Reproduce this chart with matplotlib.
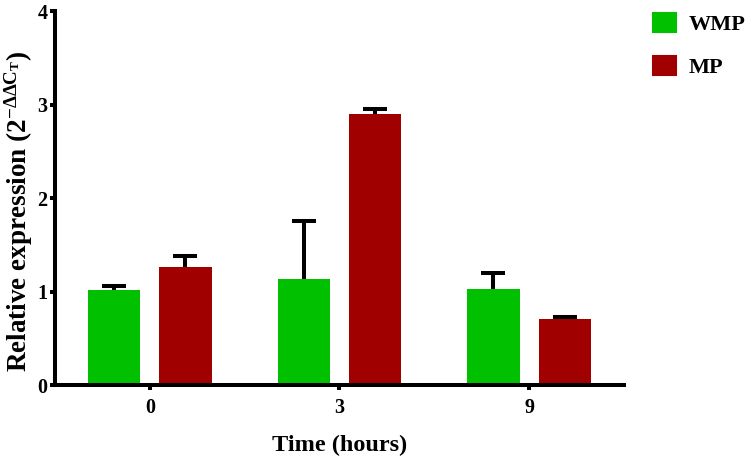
import numpy as np
import matplotlib.pyplot as plt
from matplotlib.patches import Patch

plt.rcParams['font.family'] = ['Liberation Serif', 'DejaVu Serif']
plt.rcParams['font.weight'] = 'bold'
plt.rcParams['mathtext.fontset'] = 'custom'
plt.rcParams['mathtext.rm'] = 'Liberation Serif:bold'
plt.rcParams['mathtext.it'] = 'Liberation Serif:bold'
plt.rcParams['mathtext.bf'] = 'Liberation Serif:bold'

# data
times = ['0', '3', '9']
wmp = [1.02, 1.13, 1.03]
wmp_err = [0.04, 0.63, 0.17]
mp = [1.26, 2.90, 0.71]
mp_err = [0.12, 0.05, 0.02]

green = '#00C000'
red = '#A00000'

fig = plt.figure(figsize=(7.47, 4.59), dpi=100)
ax = fig.add_axes([0.0736, 0.161, 0.7617, 0.8148])

x = np.arange(len(times))
w = 0.275
off = 0.188
# error bars sit behind the bars so only the upper half shows
ekw = dict(fmt='none', elinewidth=2.9, capthick=2.9, capsize=8.3, ecolor='black', zorder=1)
ax.errorbar(x - off, wmp, yerr=wmp_err, **ekw)
ax.errorbar(x + off, mp, yerr=mp_err, **ekw)
ax.bar(x - off, wmp, w, color=green, zorder=2)
ax.bar(x + off, mp, w, color=red, zorder=2)

ax.set_xlim(-0.5, 2.5)
ax.set_ylim(0, 4)
ax.set_xticks(x)
ax.set_xticklabels(times)
ax.set_yticks([0, 1, 2, 3, 4])
for s in ['top', 'right']:
    ax.spines[s].set_visible(False)
for s in ['left', 'bottom']:
    ax.spines[s].set_linewidth(2.9)
ax.tick_params(width=2.9, length=3.5, labelsize=14.5)
ax.tick_params(axis='x', pad=6)
ax.tick_params(axis='y', pad=2)

ax.set_xlabel('Time (hours)', fontsize=17.5, fontweight='bold', labelpad=12)
ax.set_ylabel(r'Relative expression (2$^{-\Delta\Delta C_T}$)', fontsize=19.5,
              fontweight='bold')
ax.yaxis.set_label_coords(-0.035, 0.465)

handles = [Patch(facecolor=green, edgecolor=green, lw=1.5, joinstyle='round', label='WMP'),
           Patch(facecolor=red, edgecolor=red, lw=1.5, joinstyle='round', label='MP')]
fig.legend(handles=handles, loc='upper left', bbox_to_anchor=(0.862, 0.99),
           frameon=False, fontsize=16, handlelength=1.05, handleheight=0.9,
           labelspacing=0.95, handletextpad=0.55, borderaxespad=0)

fig.savefig('out.png', dpi=100)
